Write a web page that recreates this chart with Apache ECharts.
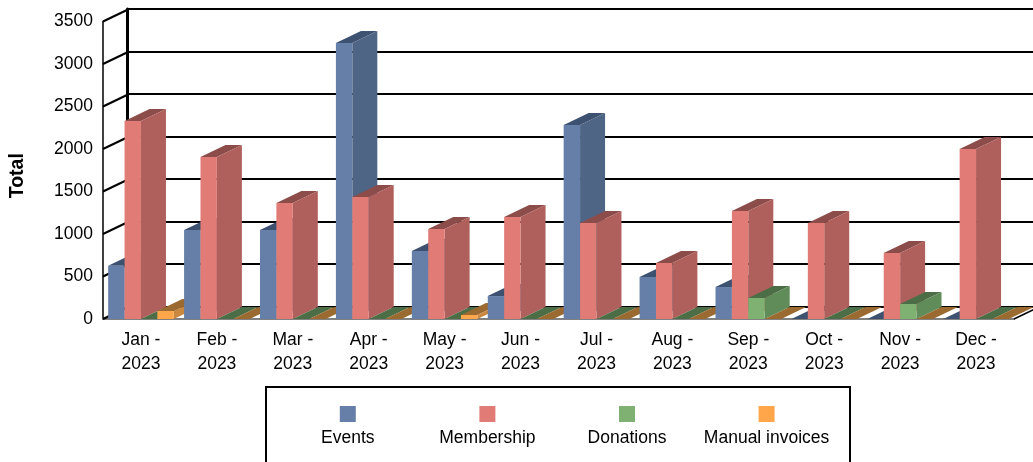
<!DOCTYPE html>
<html>
<head>
<meta charset="utf-8">
<style>
  html, body { margin: 0; padding: 0; background: #fff; overflow: hidden; }
  #chart { width: 1033px; height: 462px; }
</style>
<script src="https://cdn.jsdelivr.net/npm/echarts@6/dist/echarts.min.js"></script>
</head>
<body>
<div id="chart"></div>
<script>
const months = ['Jan -\n2023', 'Feb -\n2023', 'Mar -\n2023', 'Apr -\n2023', 'May -\n2023', 'Jun -\n2023',
  'Jul -\n2023', 'Aug -\n2023', 'Sep -\n2023', 'Oct -\n2023', 'Nov -\n2023', 'Dec -\n2023'];
const events = [627, 1047, 1047, 3247, 800, 270, 2282, 494, 376, 0, 0, 0];
const membership = [2330, 1906, 1365, 1435, 1059, 1200, 1130, 659, 1270, 1130, 776, 2000];
const donations = [0, 0, 0, 0, 0, 0, 0, 0, 247, 0, 176, 0];
const manualInvoices = [94, 0, 0, 0, 47, 0, 0, 0, 0, 0, 0, 0];
const yTicks = [0, 500, 1000, 1500, 2000, 2500, 3000, 3500];

const FONT = '"Liberation Sans", Arial, sans-serif';
const FONT_SIZE = 17.5;
const DEPTH_X = 25;
const DEPTH_Y = 12;
const BAR_SHARE = 0.216;

const palette = {
  Events: { front: '#667fa8', side: '#4f6585', top: '#3d5170' },
  Membership: { front: '#e07b76', side: '#b0605c', top: '#8c4d4a' },
  Donations: { front: '#7fb272', side: '#5f8c58', top: '#4c6e47' },
  'Manual invoices': { front: '#ffa64a', side: '#c9873f', top: '#9a6a30' },
};

function poly(points, fill, z2) {
  return { type: 'polygon', z2, shape: { points }, style: { fill } };
}

// fake 3d column: front face plus a skewed side and top
function renderBar(seriesPos, colors) {
  return (params, api) => {
    const cat = api.value(0);
    const [cx, y1] = api.coord([cat, api.value(1)]);
    const [, y0] = api.coord([cat, 0]);
    const band = api.size([1, 0])[0];
    const w = band * BAR_SHARE;
    const x0 = cx - w * 2 + w * seriesPos;
    const x1 = x0 + w;
    const z2 = cat * 10 + seriesPos;
    const children = [
      poly([[x0, y1], [x1, y1], [x1 + DEPTH_X, y1 - DEPTH_Y], [x0 + DEPTH_X, y1 - DEPTH_Y]], colors.top, z2),
    ];
    if (y0 - y1 > 0) {
      children.push(poly([[x1, y1], [x1 + DEPTH_X, y1 - DEPTH_Y], [x1 + DEPTH_X, y0 - DEPTH_Y], [x1, y0]], colors.side, z2));
      children.push(poly([[x0, y1], [x1, y1], [x1, y0], [x0, y0]], colors.front, z2));
    }
    return { type: 'group', children };
  };
}

function barSeries(name, values, seriesPos) {
  return {
    name,
    type: 'custom',
    xAxisIndex: 0,
    yAxisIndex: 0,
    z: 5,
    silent: true,
    itemStyle: { color: palette[name].front },
    renderItem: renderBar(seriesPos, palette[name]),
    data: values.map((v, i) => [i, v]),
  };
}

// left wall diagonals and the floor's right edge
function renderWall(params, api) {
  const y = api.coord([0, api.value(0)])[1];
  const rect = params.coordSys;
  const lines = [{
    type: 'line',
    shape: { x1: rect.x, y1: y, x2: rect.x + DEPTH_X, y2: y - DEPTH_Y },
    style: { stroke: '#000', lineWidth: 2 },
  }];
  if (api.value(0) === 0) {
    lines.push({
      type: 'line',
      shape: { x1: rect.x + rect.width, y1: y, x2: rect.x + rect.width + DEPTH_X, y2: y - DEPTH_Y },
      style: { stroke: '#000', lineWidth: 1.5 },
    });
  }
  return { type: 'group', children: lines };
}

const chart = echarts.init(document.getElementById('chart'));
chart.setOption({
  animation: false,
  backgroundColor: '#fff',
  textStyle: { fontFamily: FONT },
  grid: [
    { left: 102, top: 21.5, width: 912, height: 297.5 },
    { left: 127, top: 9, width: 912, height: 297.5 },
  ],
  xAxis: [
    {
      gridIndex: 0,
      type: 'category',
      data: months,
      axisTick: { show: false },
      axisLine: { lineStyle: { color: '#808080', width: 2 } },
      axisLabel: { color: '#000', fontSize: FONT_SIZE, lineHeight: 24, margin: 9, fontFamily: FONT, interval: 0 },
    },
    {
      gridIndex: 1,
      type: 'category',
      data: months,
      axisTick: { show: false },
      axisLine: { show: false },
      axisLabel: { show: false },
    },
  ],
  yAxis: [
    {
      gridIndex: 0,
      type: 'value',
      min: 0,
      max: 3500,
      interval: 500,
      name: 'Total',
      nameLocation: 'middle',
      nameGap: 75,
      nameTextStyle: { color: '#000', fontSize: 19.5, fontWeight: 'bold', fontFamily: FONT, padding: [0, 11, 0, 0] },
      axisLine: { show: true, lineStyle: { color: '#000', width: 1.5 } },
      axisTick: { show: false },
      splitLine: { show: false },
      axisLabel: { color: '#000', fontSize: FONT_SIZE, margin: 10, fontFamily: FONT, formatter: (v) => String(v) },
    },
    {
      gridIndex: 1,
      type: 'value',
      min: 0,
      max: 3500,
      interval: 500,
      axisLine: { show: true, lineStyle: { color: '#000', width: 3 } },
      axisTick: { show: false },
      axisLabel: { show: false },
      splitLine: { show: true, lineStyle: { color: '#000', width: 2 } },
    },
  ],
  legend: {
    left: 275.5,
    top: 405,
    padding: 0,
    itemGap: 0,
    itemWidth: 0,
    itemHeight: 0,
    icon: 'none',
    selectedMode: false,
    data: Object.keys(palette),
    formatter: (name) => `{${name.replace(' ', '')}| }\n{t|${name}}`,
    textStyle: {
      color: '#000',
      fontSize: FONT_SIZE,
      fontFamily: FONT,
      rich: {
        Events: { width: 16, height: 16, align: 'center', backgroundColor: palette.Events.front },
        Membership: { width: 16, height: 16, align: 'center', backgroundColor: palette.Membership.front },
        Donations: { width: 16, height: 16, align: 'center', backgroundColor: palette.Donations.front },
        Manualinvoices: { width: 16, height: 16, align: 'center', backgroundColor: palette['Manual invoices'].front },
        t: { width: 134.6, align: 'center', lineHeight: 32, fontSize: FONT_SIZE, fontFamily: FONT, color: '#000' },
      },
    },
  },
  graphic: [{
    type: 'rect',
    silent: true,
    shape: { x: 266, y: 387, width: 584, height: 120 },
    style: { fill: '#fff', stroke: '#000', lineWidth: 2 },
  }],
  series: [
    {
      type: 'custom',
      xAxisIndex: 0,
      yAxisIndex: 0,
      z: 3,
      silent: true,
      renderItem: renderWall,
      data: yTicks.map((t) => [t]),
    },
    barSeries('Events', events, 0),
    barSeries('Membership', membership, 1),
    barSeries('Donations', donations, 2),
    barSeries('Manual invoices', manualInvoices, 3),
  ],
});
</script>
</body>
</html>
